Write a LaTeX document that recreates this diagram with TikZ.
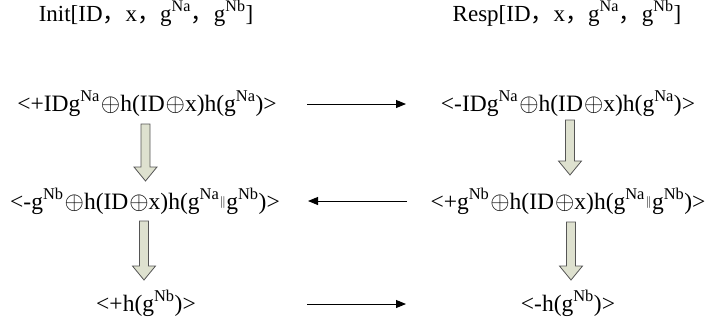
\documentclass[tikz,border=0pt]{standalone}
\usepackage{fontspec}
\setmainfont{Liberation Serif}
\newfontfamily\cjk{Noto Sans CJK SC}
\usetikzlibrary{arrows.meta}

\definecolor{flowfill}{RGB}{222,225,207}
\definecolor{flowline}{RGB}{85,85,85}

% full-width comma, superscript, xor and concatenation marks
\newcommand{\fwc}{{\cjk ，}}
\newcommand{\sps}[1]{\textsuperscript{#1}}
\newcommand{\xo}{\kern1pt$\oplus$}
\newcommand{\cc}{\kern0.5pt\raisebox{0.35ex}{\fontsize{13}{13}\selectfont$\|$}\kern0.5pt}

\tikzset{
  title/.style={font=\fontsize{23}{26}\selectfont, anchor=base},
  msg/.style={font=\fontsize{23.5}{28}\selectfont, anchor=base, inner sep=0pt},
  flow/.style={-{Triangle[length=10pt,width=8pt]}, line width=0.9pt},
  stepdown/.style={fill=flowfill, draw=flowline, line width=0.8pt, line join=miter}
}

% hollow downward block arrow: centre x, top y, tip y
\newcommand{\downblock}[3]{%
  \draw[stepdown] (#1-4.5,#2) -- (#1+4.5,#2) -- (#1+4.5,#3-14) -- (#1+11.5,#3-14)
    -- (#1,#3) -- (#1-11.5,#3-14) -- (#1-4.5,#3-14) -- cycle;}

\begin{document}
\begin{tikzpicture}[x=1pt,y=-1pt]
\useasboundingbox (0,0) rectangle (705,325);

\node[title] (ti) at (146,21) {Init[ID\fwc x\fwc g\sps{Na}\fwc g\sps{Nb}]};
\node[title] (tr) at (567,21) {Resp[ID\fwc x\fwc g\sps{Na}\fwc g\sps{Nb}]};

\node[msg] (a1) at (147,111) {<+IDg\sps{Na}\xo h(ID\xo x)h(g\sps{Na})>};
\node[msg] (b1) at (568,111) {<-IDg\sps{Na}\xo h(ID\xo x)h(g\sps{Na})>};
\node[msg] (a2) at (145,209) {<-g\sps{Nb}\xo h(ID\xo x)h(g\sps{Na}\cc g\sps{Nb})>};
\node[msg] (b2) at (568,209) {<+g\sps{Nb}\xo h(ID\xo x)h(g\sps{Na}\cc g\sps{Nb})>};
\node[msg] (a3) at (146,311) {<+h(g\sps{Nb})>};
\node[msg] (b3) at (568,311) {<-h(g\sps{Nb})>};

% messages exchanged between the two parties
\coordinate (m1s) at (307,104); \coordinate (m1e) at (406,104);
\coordinate (m2s) at (407,201); \coordinate (m2e) at (308,201);
\coordinate (m3s) at (307,304); \coordinate (m3e) at (406,304);
\draw[flow] (m1s) -- (m1e);
\draw[flow] (m2s) -- (m2e);
\draw[flow] (m3s) -- (m3e);

% local processing steps
\downblock{145.5}{124}{181}
\downblock{144}{221}{280}
\downblock{570}{120}{175}
\downblock{571}{222}{280}
\end{tikzpicture}
\end{document}
